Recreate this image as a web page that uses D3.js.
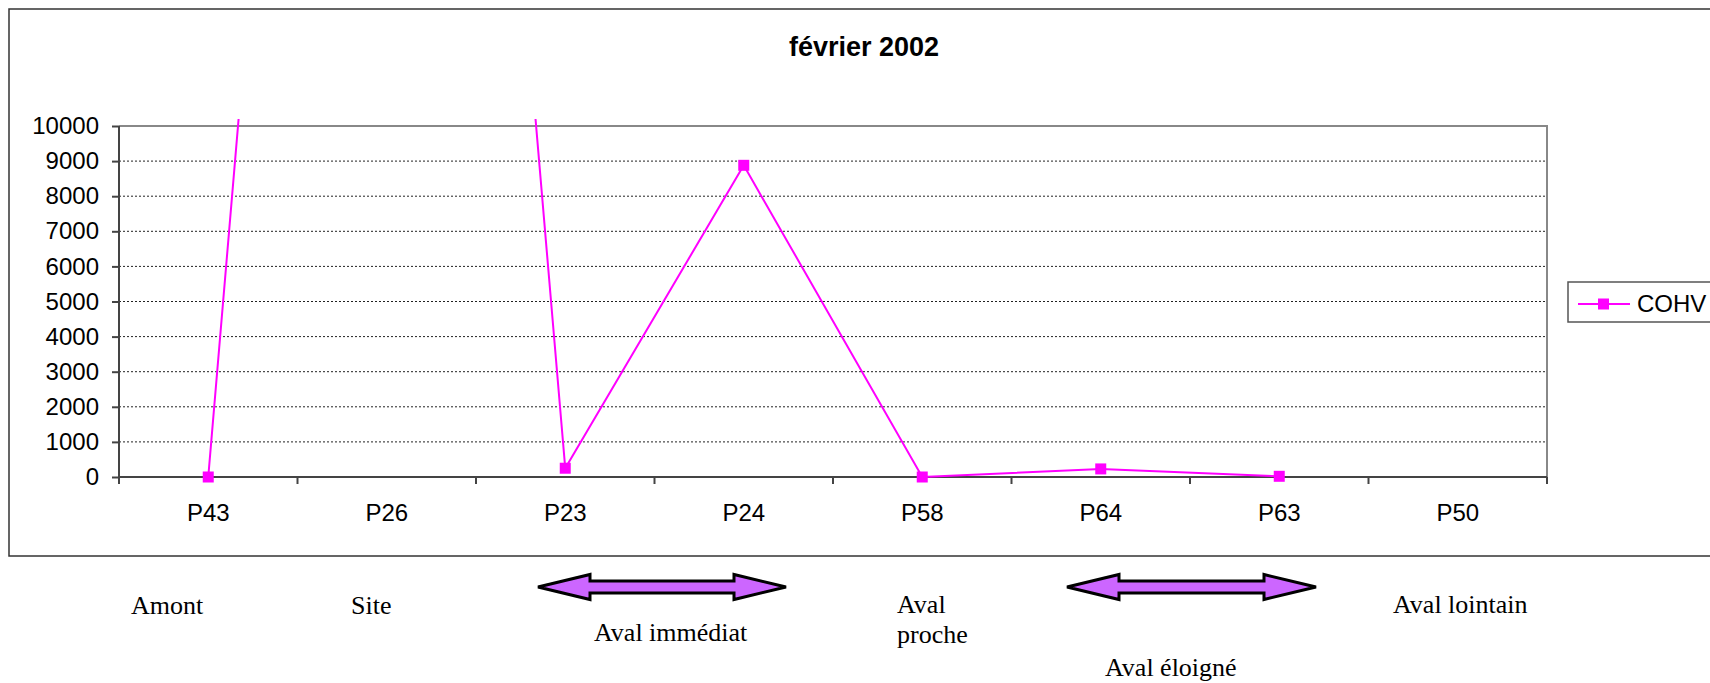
<!DOCTYPE html>
<html>
<head>
<meta charset="utf-8">
<script src="https://cdn.jsdelivr.net/npm/d3@7"></script>
<style>
body { margin: 0; background: #fff; }
svg { display: block; }
.axisText { font-family: "Liberation Sans", Arial, sans-serif; font-size: 24px; fill: #000; }
.title { font-family: "Liberation Sans", Arial, sans-serif; font-size: 27px; font-weight: bold; fill: #000; }
.note { font-family: "Liberation Serif", "Times New Roman", serif; font-size: 26px; fill: #000; }
</style>
</head>
<body>
<script>
// stations along the river, upstream to downstream
var categories = ["P43", "P26", "P23", "P24", "P58", "P64", "P63", "P50"];
// COHV, february 2002 (P26 is far above the axis, P50 has no value)
var cohv = [0, 60000, 250, 8880, 0, 230, 20, null];
var yTicks = [0, 1000, 2000, 3000, 4000, 5000, 6000, 7000, 8000, 9000, 10000];
var seriesName = "COHV";
var chartTitle = "février 2002";

// zone labels under the chart
var zoneNames = [["Amont"], ["Site"], ["Aval immédiat"], ["Aval", "proche"], ["Aval éloigné"], ["Aval lointain"]];

var W = 1710, H = 683;
var plot = {left: 119, right: 1547, top: 126, bottom: 477};

var svg = d3.select("body").append("svg")
    .attr("width", W)
    .attr("height", H);

// chart area frame
svg.append("rect")
    .attr("x", 9).attr("y", 9)
    .attr("width", 1720).attr("height", 547)
    .attr("fill", "#fff")
    .attr("stroke", "#333")
    .attr("stroke-width", 1.5);

svg.append("text")
    .attr("class", "title")
    .attr("x", 864).attr("y", 56)
    .attr("text-anchor", "middle")
    .text(chartTitle);

var x = d3.scaleBand()
    .domain(categories)
    .range([plot.left, plot.right])
    .padding(0);

var y = d3.scaleLinear()
    .domain([0, 10000])
    .range([plot.bottom, plot.top]);

function cx(c) { return x(c) + x.bandwidth() / 2; }

// gridlines
svg.append("g")
    .selectAll("line")
    .data(yTicks.filter(function(d) { return d > 0 && d < 10000; }))
    .enter()
    .append("line")
    .attr("x1", plot.left).attr("x2", plot.right)
    .attr("y1", function(d) { return y(d); })
    .attr("y2", function(d) { return y(d); })
    .attr("stroke", "#222")
    .attr("stroke-width", 1)
    .attr("stroke-dasharray", "2,2");

// plot border (top / right)
svg.append("path")
    .attr("d", "M" + plot.left + "," + y(10000) + "H" + plot.right + "V" + plot.bottom)
    .attr("fill", "none")
    .attr("stroke", "#888")
    .attr("stroke-width", 2);

// y axis
var yAxis = svg.append("g")
    .attr("transform", "translate(" + plot.left + ",0)")
    .call(d3.axisLeft(y).tickValues(yTicks).tickSize(7).tickPadding(13).tickFormat(d3.format("d")));
yAxis.select(".domain").remove();
yAxis.selectAll(".tick line").attr("stroke", "#444").attr("stroke-width", 2);
yAxis.selectAll("text").attr("class", "axisText").attr("font-size", null).attr("font-family", null);

// x axis labels
var xAxis = svg.append("g")
    .attr("transform", "translate(0," + plot.bottom + ")")
    .call(d3.axisBottom(x).tickSize(0).tickPadding(27));
xAxis.select(".domain").remove();
xAxis.selectAll(".tick line").remove();
xAxis.selectAll("text").attr("class", "axisText").attr("font-size", null).attr("font-family", null);

// category boundary ticks
svg.append("g")
    .selectAll("line")
    .data(categories.concat(["end"]))
    .enter()
    .append("line")
    .attr("x1", function(d, i) { return plot.left + i * x.bandwidth(); })
    .attr("x2", function(d, i) { return plot.left + i * x.bandwidth(); })
    .attr("y1", plot.bottom)
    .attr("y2", plot.bottom + 7)
    .attr("stroke", "#444")
    .attr("stroke-width", 2);

// axis lines
svg.append("path")
    .attr("d", "M" + plot.left + "," + plot.top + "V" + plot.bottom + "H" + plot.right)
    .attr("fill", "none")
    .attr("stroke", "#444")
    .attr("stroke-width", 2);

// series
var data = categories.map(function(c, i) { return {cat: c, v: cohv[i]}; });

svg.append("clipPath")
    .attr("id", "plotClip")
    .append("rect")
    .attr("x", 0).attr("y", plot.top - 7)
    .attr("width", W).attr("height", H);

var series = svg.append("g").attr("clip-path", "url(#plotClip)");

var line = d3.line()
    .defined(function(d) { return d.v !== null; })
    .x(function(d) { return cx(d.cat); })
    .y(function(d) { return y(d.v); });

series.append("path")
    .datum(data)
    .attr("d", line)
    .attr("fill", "none")
    .attr("stroke", "#ff00ff")
    .attr("stroke-width", 2);

series.selectAll(".marker")
    .data(data.filter(function(d) { return d.v !== null; }))
    .enter()
    .append("rect")
    .attr("class", "marker")
    .attr("x", function(d) { return cx(d.cat) - 5.5; })
    .attr("y", function(d) { return y(d.v) - 5.5; })
    .attr("width", 11).attr("height", 11)
    .attr("fill", "#ff00ff");

// legend
var legend = svg.append("g");
legend.append("rect")
    .attr("x", 1568).attr("y", 282)
    .attr("width", 200).attr("height", 40)
    .attr("fill", "#fff")
    .attr("stroke", "#555")
    .attr("stroke-width", 1.5);
legend.append("line")
    .attr("x1", 1578).attr("x2", 1630)
    .attr("y1", 304).attr("y2", 304)
    .attr("stroke", "#ff00ff").attr("stroke-width", 2);
legend.append("rect")
    .attr("x", 1598).attr("y", 298.5)
    .attr("width", 11).attr("height", 11)
    .attr("fill", "#ff00ff");
legend.append("text")
    .attr("class", "axisText")
    .attr("x", 1637).attr("y", 312)
    .text(seriesName);

// zone notes under the chart
var noteLayout = [
    {x: 131, y: 614},
    {x: 351, y: 614},
    {x: 594, y: 641},
    {x: 897, y: 613},
    {x: 1105, y: 676},
    {x: 1393, y: 613}
];

svg.append("g")
    .selectAll("text")
    .data(zoneNames)
    .enter()
    .append("text")
    .attr("class", "note")
    .attr("x", function(d, i) { return noteLayout[i].x; })
    .attr("y", function(d, i) { return noteLayout[i].y; })
    .each(function(d, i) {
        var t = d3.select(this);
        d.forEach(function(s, k) {
            t.append("tspan")
                .attr("x", noteLayout[i].x)
                .attr("dy", k === 0 ? 0 : 30)
                .text(s);
        });
    });

// double arrows
var arrows = [[538, 786], [1067, 1316]];

function arrowPath(x0, x1, cy) {
    var hl = 52, hh = 12.5, sh = 6;
    return "M" + x0 + "," + cy +
        "L" + (x0 + hl) + "," + (cy - hh) +
        "L" + (x0 + hl) + "," + (cy - sh) +
        "L" + (x1 - hl) + "," + (cy - sh) +
        "L" + (x1 - hl) + "," + (cy - hh) +
        "L" + x1 + "," + cy +
        "L" + (x1 - hl) + "," + (cy + hh) +
        "L" + (x1 - hl) + "," + (cy + sh) +
        "L" + (x0 + hl) + "," + (cy + sh) +
        "L" + (x0 + hl) + "," + (cy + hh) + "Z";
}

svg.append("g")
    .selectAll("path")
    .data(arrows)
    .enter()
    .append("path")
    .attr("d", function(d) { return arrowPath(d[0], d[1], 587); })
    .attr("fill", "#cc66ff")
    .attr("stroke", "#000")
    .attr("stroke-width", 3)
    .attr("stroke-linejoin", "miter");
</script>
</body>
</html>
